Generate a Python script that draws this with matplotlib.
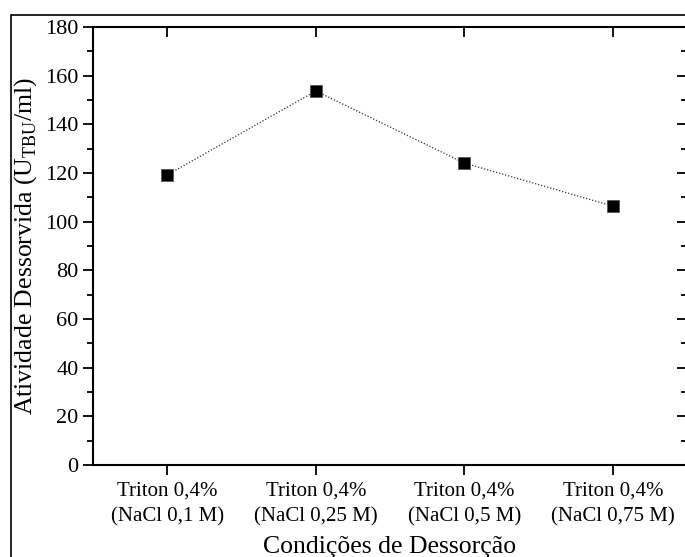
import matplotlib
matplotlib.use("Agg")
import matplotlib.pyplot as plt
from matplotlib.patches import Rectangle
from matplotlib.ticker import MultipleLocator

# Data
categories = ["Triton 0,4%\n(NaCl 0,1 M)", "Triton 0,4%\n(NaCl 0,25 M)",
              "Triton 0,4%\n(NaCl 0,5 M)", "Triton 0,4%\n(NaCl 0,75 M)"]
positions = [1, 2, 3, 4]
atividade = [119.2, 153.7, 124.1, 106.4]

plt.rcParams["font.family"] = ["Liberation Serif", "DejaVu Serif"]
plt.rcParams["mathtext.fontset"] = "custom"
plt.rcParams["mathtext.rm"] = "Liberation Serif"

fig = plt.figure(figsize=(6.85, 5.57), dpi=100)
ax = fig.add_axes([93 / 685, 1 - 465 / 557, 594 / 685, 438 / 557])

# outer frame around the figure
fig.patches.append(Rectangle((11 / 685, -0.1), 1.2, 1 - 15 / 557 + 0.1,
                             transform=fig.transFigure, fill=False,
                             edgecolor="black", linewidth=1.2))

ax.plot(positions, atividade, linestyle=(0, (1, 1.5)), color="#333333",
        linewidth=0.9, marker="s", markersize=9, markerfacecolor="black",
        markeredgecolor="#555555", markeredgewidth=0.6)

ax.set_xlim(0.5, 4.5)
ax.set_ylim(0, 180)
ax.set_xticks(positions)
ax.set_xticklabels(categories, fontsize=15, linespacing=1.45)
ax.yaxis.set_major_locator(MultipleLocator(20))
ax.yaxis.set_minor_locator(MultipleLocator(10))
ax.tick_params(axis="y", labelsize=16)

for side in ax.spines.values():
    side.set_linewidth(1.5)

ax.tick_params(which="major", length=7, width=1.3)
ax.tick_params(which="minor", length=4, width=1.3)
ax.tick_params(axis="y", which="both", direction="out", right=True)
ax.tick_params(axis="x", which="both", direction="out", top=True, pad=5)
ax.tick_params(axis="x", which="minor", bottom=False, top=False)

# top and right ticks point inward
for tick in ax.yaxis.get_major_ticks() + ax.yaxis.get_minor_ticks():
    tick.tick2line.set_marker(matplotlib.lines.TICKLEFT)
for tick in ax.xaxis.get_major_ticks():
    tick.tick2line.set_marker(matplotlib.lines.TICKDOWN)

ax.set_xlabel("Condições de Dessorção", fontsize=18.5, labelpad=7)
ax.set_ylabel(r"Atividade Dessorvida (U$_{\mathrm{TBU}}$/ml)", fontsize=18.5,
              labelpad=4)

fig.savefig("out.png", dpi=100)
